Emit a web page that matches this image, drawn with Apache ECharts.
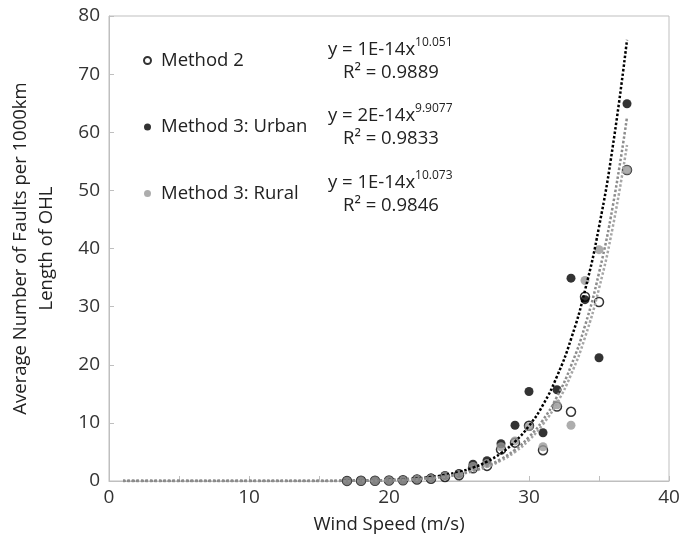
<!DOCTYPE html>
<html><head><meta charset="utf-8">
<script src="https://cdn.jsdelivr.net/npm/echarts@6/dist/echarts.min.js"></script>
<style>html,body{margin:0;padding:0;background:#fff}#c{width:694px;height:542px}</style>
</head><body><div id="c"></div>
<script>
// wind speed categories (m/s)
var windSpeed = [17,18,19,20,21,22,23,24,25,26,27,28,29,30,31,32,33,34,35,37];
// Method 2 (open circles)
var method2 = [0.02,0.03,0.05,0.08,0.12,0.25,0.4,0.7,1.0,2.2,2.6,5.4,6.6,9.5,5.3,12.8,11.9,31.7,30.8,53.5];
// Method 3: Urban (black)
var urban = [0.03,0.04,0.06,0.1,0.15,0.3,0.5,0.95,1.3,2.9,3.5,6.4,9.6,15.4,8.3,15.7,34.9,31.2,21.2,64.9];
// Method 3: Rural (grey)
var rural = [0.02,0.03,0.05,0.08,0.12,0.3,0.45,0.85,1.1,2.5,3.0,5.9,6.9,9.35,5.9,13.1,9.6,34.5,39.8,53.5];

// trend lines, values
var trendX = [1,5,10,15,17,19,21,23,24,25,26,27,28,29,30,31,32,33,34,35,36,37];
var trendM2 = [0,0,0,0.01,0.02,0.07,0.2,0.49,0.75,1.12,1.67,2.44,3.51,5.0,7.03,9.77,13.4,18.3,24.7,33.1,43.9,57.8];
var trendUrban = [0,0,0,0.01,0.03,0.1,0.28,0.68,1.04,1.56,2.3,3.34,4.79,6.78,9.49,13.1,18.0,24.4,32.8,43.7,57.8,75.9];
var trendRural = [0,0,0,0.01,0.03,0.08,0.21,0.52,0.8,1.21,1.79,2.62,3.78,5.38,7.57,10.5,14.5,19.8,26.7,35.8,47.5,62.6];

var xTicks = [0,10,20,30,40];
var yTicks = [0,10,20,30,40,50,60,70,80];

function pairs(xs, ys){ return xs.map(function(x,i){ return [x, ys[i]]; }); }

var FONT = '"Open Sans", "Noto Sans", sans-serif';
var FS = 18.5;
var chart = echarts.init(document.getElementById('c'), null, {renderer:'canvas'});
var axisGray = '#bfbfbf';
var dotted = function(color){ return {color: color, width: 2.5, type: [2.5, 2], cap: 'butt'}; };
var eqRich = {m:{fontSize:FS, fill:'#222', fontFamily: FONT, lineHeight: 26}, s:{fontSize:12, fill:'#222', fontFamily: FONT, verticalAlign:'top', lineHeight: 26}};

chart.setOption({
  animation: false,
  textStyle: {fontFamily: FONT},
  grid: {left: 108, right: 25, top: 16, bottom: 61, show: true, borderColor: axisGray, borderWidth: 1},
  legend: {
    data: ['Method 2','Method 3: Urban','Method 3: Rural'],
    orient: 'vertical', left: 143, top: 50, itemGap: 45.5, padding: 0,
    itemWidth: 7, itemHeight: 7, icon: 'circle',
    textStyle: {fontSize: FS, color: '#222', lineHeight: 21, fontFamily: FONT, padding: [0,0,0,5]}
  },
  xAxis: {
    type: 'value', min: 0, max: 40, interval: 5,
    name: 'Wind Speed (m/s)', nameLocation: 'middle', nameGap: 34,
    nameTextStyle: {fontSize: FS, color: '#222', fontFamily: FONT},
    axisLine: {show: true, lineStyle: {color: axisGray, width: 1}},
    axisTick: {show: true, inside: true, length: 5, lineStyle: {color: axisGray}},
    axisLabel: {fontSize: 19, color: '#333', margin: 7, fontFamily: FONT,
      formatter: function(v){ return xTicks.indexOf(v) >= 0 ? String(v) : ''; }},
    splitLine: {show: false}
  },
  yAxis: {
    type: 'value', min: 0, max: 80, interval: 10,
    name: 'Average Number of Faults per 1000km\nLength of OHL', nameLocation: 'middle', nameGap: 49,
    nameTextStyle: {fontSize: FS, color: '#222', lineHeight: 26, fontFamily: FONT},
    axisLine: {show: true, lineStyle: {color: axisGray, width: 1}},
    axisTick: {show: true, inside: true, length: 5, lineStyle: {color: axisGray}},
    axisLabel: {fontSize: 19, color: '#333', margin: 9, fontFamily: FONT,
      formatter: function(v){ return yTicks.indexOf(v) >= 0 ? String(v) : ''; }},
    splitLine: {show: false}
  },
  series: [
    {name: 'Method 2', type: 'scatter', data: pairs(windSpeed, method2), symbol: 'circle', symbolSize: 9,
      itemStyle: {color: '#fff', borderColor: '#000', borderWidth: 1.5}, z: 2},
    {name: 'Method 3: Urban', type: 'scatter', data: pairs(windSpeed, urban), symbol: 'circle', symbolSize: 9,
      itemStyle: {color: '#000'}, z: 3},
    {name: 'Method 3: Rural', type: 'scatter', data: pairs(windSpeed, rural), symbol: 'circle', symbolSize: 9,
      itemStyle: {color: '#999'}, z: 4},
    {name: 'trendUrban', type: 'line', data: pairs(trendX, trendUrban), showSymbol: false, smooth: true,
      lineStyle: dotted('#000'), z: 5, silent: true},
    {name: 'trendM2', type: 'line', data: pairs(trendX, trendM2), showSymbol: false, smooth: true,
      lineStyle: dotted('#a6a6a6'), z: 6, silent: true},
    {name: 'trendRural', type: 'line', data: pairs(trendX, trendRural), showSymbol: false, smooth: true,
      lineStyle: dotted('#8c8c8c'), z: 7, silent: true}
  ],
  graphic: [
    {type:'text', left: 328, top: 37, style: {rich: eqRich, text: '{m|y = 1E-14x}{s|10.051}'}},
    {type:'text', left: 343, top: 63, style: {text: 'R² = 0.9889', fontSize: FS, fill: '#222', fontFamily: FONT}},
    {type:'text', left: 328, top: 103, style: {rich: eqRich, text: '{m|y = 2E-14x}{s|9.9077}'}},
    {type:'text', left: 343, top: 129, style: {text: 'R² = 0.9833', fontSize: FS, fill: '#222', fontFamily: FONT}},
    {type:'text', left: 328, top: 170, style: {rich: eqRich, text: '{m|y = 1E-14x}{s|10.073}'}},
    {type:'text', left: 343, top: 196, style: {text: 'R² = 0.9846', fontSize: FS, fill: '#222', fontFamily: FONT}}
  ]
});
</script>
</body></html>
